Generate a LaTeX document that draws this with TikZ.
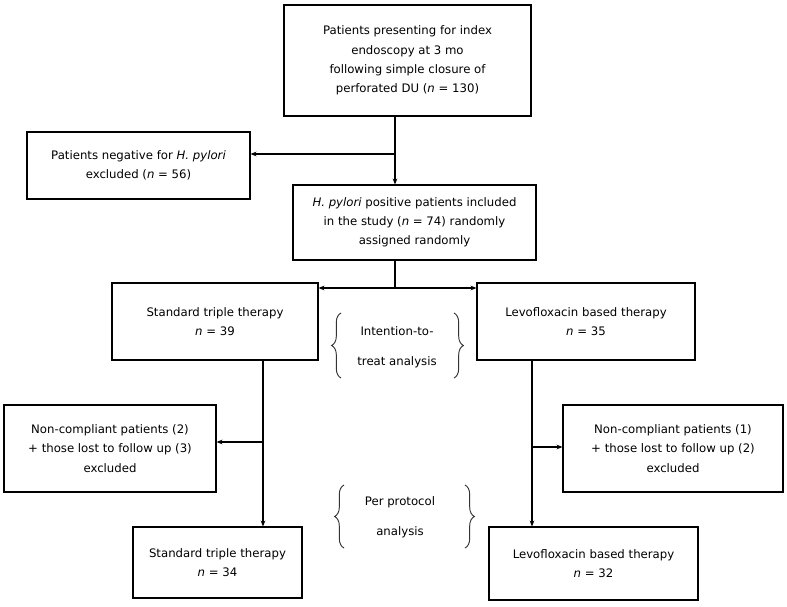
\documentclass[tikz,border=0pt]{standalone}
\usepackage{amsmath}
\usepackage{fontspec}
\setmainfont{DejaVu Sans}
\usetikzlibrary{arrows.meta,decorations.pathreplacing}

\begin{document}
\begin{tikzpicture}[x=0.03cm,y=-0.03cm,
	box/.style={draw=black,line width=1pt,align=center,inner sep=0pt,font=\fontsize{10}{16.4}\selectfont},
	arr/.style={line width=1pt,-{Stealth[length=5pt,width=4pt]}},
	lin/.style={line width=1pt},
	brc/.style={draw=black!80,line width=0.8pt,decorate,decoration={brace,amplitude=8pt}},
	lbl/.style={align=center,font=\fontsize{10}{26}\selectfont}]
	\useasboundingbox (0,0) rectangle (787,606);
	\node [box,minimum width=7.41cm,minimum height=3.33cm] (top) at (407.5,60.5) {Patients presenting for index\\endoscopy at 3 mo\\following simple closure of\\perforated DU (\textit{n} = 130)};
	\node [box,minimum width=6.69cm,minimum height=2.01cm] (neg) at (138.5,165.5) {Patients negative for \textit{H. pylori}\\excluded (\textit{n} = 56)};
	\node [box,minimum width=7.29cm,minimum height=2.25cm] (hp) at (414.5,222.5) {\textit{H. pylori} positive patients included\\in the study (\textit{n} = 74) randomly\\assigned randomly};
	\node [box,minimum width=6.18cm,minimum height=2.31cm] (std) at (215,321.5) {Standard triple therapy\\\textit{n} = 39};
	\node [box,minimum width=6.54cm,minimum height=2.31cm] (levo) at (586,321.5) {Levofloxacin based therapy\\\textit{n} = 35};
	\node [box,minimum width=6.36cm,minimum height=2.61cm] (nonl) at (110,448.5) {Non-compliant patients (2)\\+ those lost to follow up (3)\\excluded};
	\node [box,minimum width=6.6cm,minimum height=2.61cm] (nonr) at (673,448.5) {Non-compliant patients (1)\\+ those lost to follow up (2)\\excluded};
	\node [box,minimum width=5.07cm,minimum height=2.13cm] (stdb) at (217.5,562.5) {Standard triple therapy\\\textit{n} = 34};
	\node [box,minimum width=6.27cm,minimum height=2.19cm] (levob) at (593.5,563.5) {Levofloxacin based therapy\\\textit{n} = 32};
	\node [lbl] (itt) at (397,347) {Intention-to-\\treat analysis};
	\node [lbl] (pp) at (400,517) {Per protocol\\analysis};
	\coordinate (c1) at (395,154);
	\coordinate (c2) at (395,288);
	\coordinate (c3) at (263,442);
	\coordinate (c4) at (532,447);
	\draw [arr] (top.south -| c1) -- (hp.north -| c1);
	\draw [arr] (c1) -- (neg.east |- c1);
	\draw [lin] (hp.south -| c2) -- (c2);
	\draw [arr] (c2) -- (std.east |- c2);
	\draw [arr] (c2) -- (levo.west |- c2);
	\draw [arr] (std.south -| c3) -- (stdb.north -| c3);
	\draw [arr] (c3) -- (nonl.east |- c3);
	\draw [arr] (levo.south -| c4) -- (levob.north -| c4);
	\draw [arr] (c4) -- (nonr.west |- c4);
	\draw [brc] (341,378) -- (341,313);
	\draw [brc] (454,313) -- (454,378);
	\draw [brc] (344,548) -- (344,485);
	\draw [brc] (465,485) -- (465,548);
\end{tikzpicture}
\end{document}
